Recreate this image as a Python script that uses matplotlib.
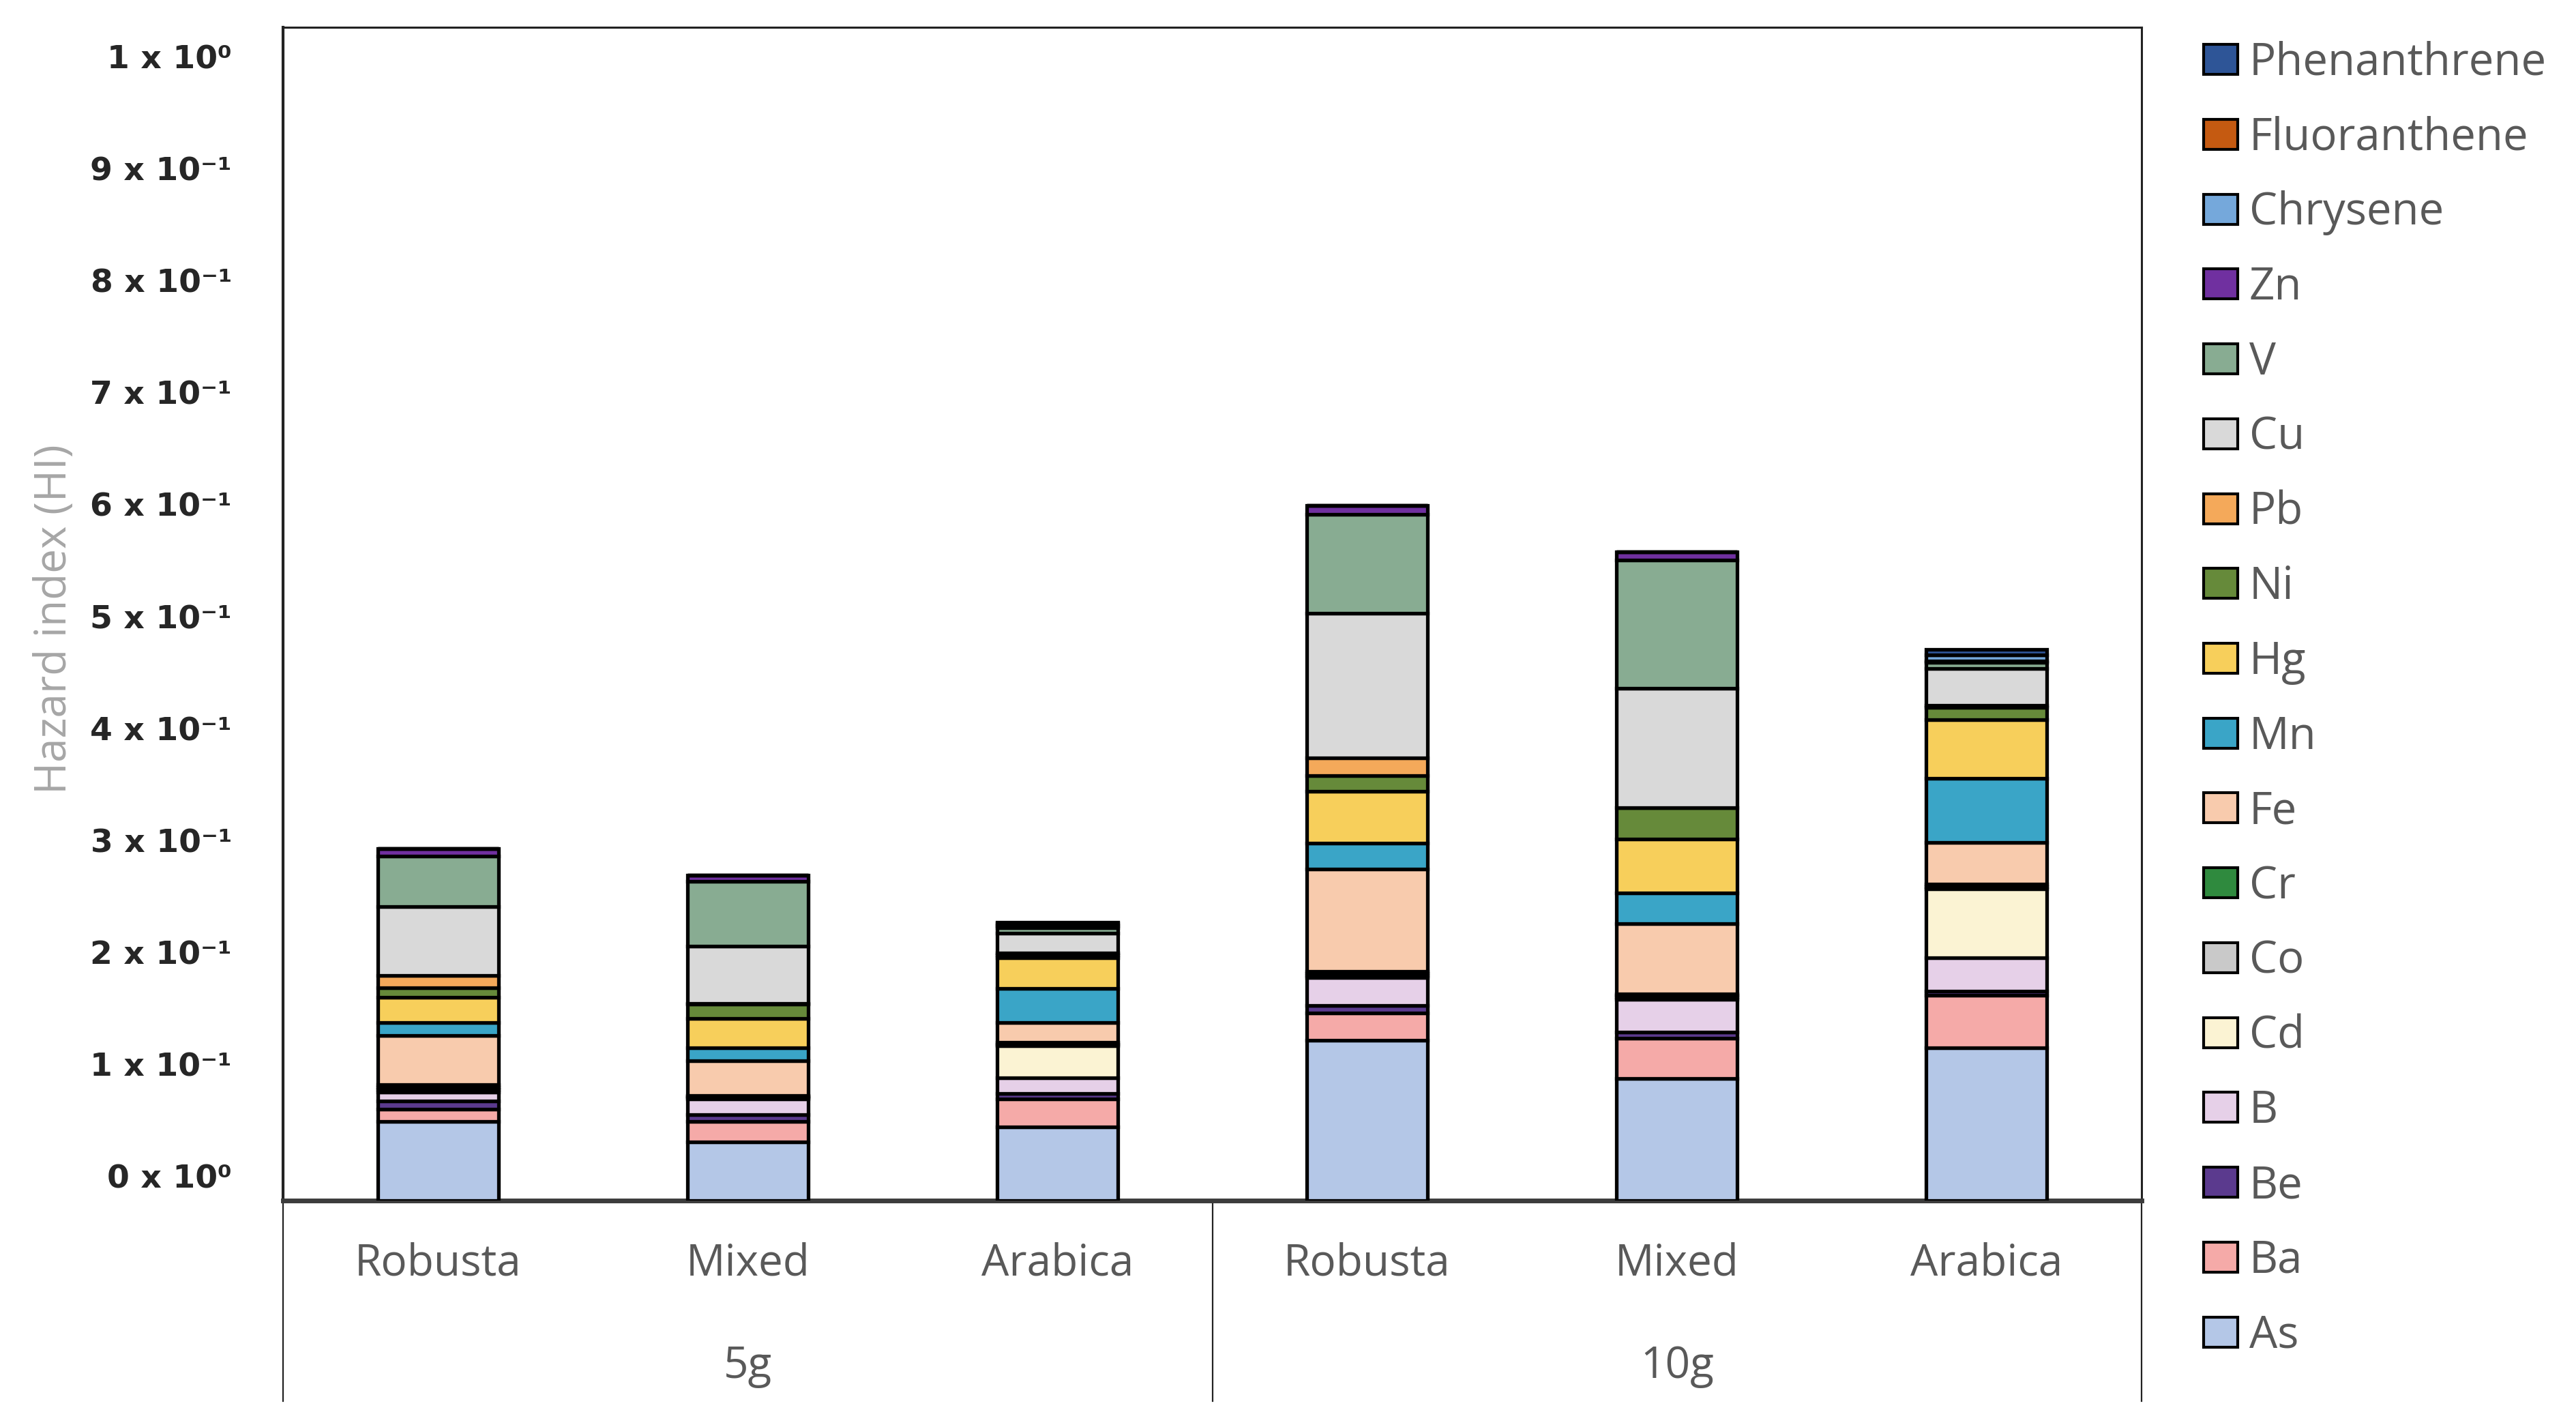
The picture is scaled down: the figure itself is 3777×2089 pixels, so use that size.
import matplotlib
matplotlib.use("Agg")
import matplotlib.pyplot as plt
import matplotlib.transforms as mtransforms
import numpy as np

# categories
varieties = ["Robusta", "Mixed", "Arabica", "Robusta", "Mixed", "Arabica"]
groups = ["5g", "10g"]

# hazard quotient per element, order: 5g R, M, A, 10g R, M, A
As = [0.0704, 0.0518, 0.0657, 0.143, 0.109, 0.136]
Ba = [0.0111, 0.0186, 0.0245, 0.0244, 0.0354, 0.047]
Be = [0.0071, 0.0063, 0.0051, 0.0064, 0.006, 0.0038]
B = [0.0082, 0.014, 0.014, 0.0248, 0.029, 0.030]
Cd = [0.002, 0.001, 0.0286, 0.002, 0.0015, 0.061]
Co = [0.002, 0.001, 0.0015, 0.002, 0.002, 0.002]
Cr = [0.0027, 0.001, 0.0015, 0.0015, 0.0015, 0.0023]
Fe = [0.0438, 0.0308, 0.0175, 0.0915, 0.0624, 0.0376]
Mn = [0.0116, 0.0116, 0.031, 0.0235, 0.0273, 0.057]
Hg = [0.0222, 0.0264, 0.027, 0.0461, 0.0484, 0.0525]
Ni = [0.0086, 0.0123, 0.0025, 0.0141, 0.0278, 0.0107]
Pb = [0.0107, 0.001, 0.002, 0.0158, 0.0, 0.002]
Cu = [0.0616, 0.051, 0.0173, 0.129, 0.1068, 0.033]
V = [0.0454, 0.0578, 0.005, 0.0884, 0.1146, 0.0055]
Zn = [0.0065, 0.0058, 0.002, 0.0077, 0.0073, 0.001]
Chrysene = [0.0, 0.0, 0.0015, 0.0, 0.0, 0.0055]
Fluoranthene = [0.0, 0.0, 0.0, 0.0, 0.0, 0.0]
Phenanthrene = [0.0, 0.0, 0.0012, 0.0, 0.0, 0.005]

ytick_labels = ["0 x 10⁰", "1 x 10⁻¹", "2 x 10⁻¹", "3 x 10⁻¹", "4 x 10⁻¹",
                "5 x 10⁻¹", "6 x 10⁻¹", "7 x 10⁻¹", "8 x 10⁻¹", "9 x 10⁻¹", "1 x 10⁰"]

series = [
    ("As", As, "#b4c7e7"),
    ("Ba", Ba, "#f5aaa8"),
    ("Be", Be, "#5b3a8e"),
    ("B", B, "#e6d0e8"),
    ("Cd", Cd, "#fbf3d3"),
    ("Co", Co, "#c9c9c9"),
    ("Cr", Cr, "#2f8a3e"),
    ("Fe", Fe, "#f8cbad"),
    ("Mn", Mn, "#3aa5c7"),
    ("Hg", Hg, "#f7cf5b"),
    ("Ni", Ni, "#668a3a"),
    ("Pb", Pb, "#f4a95a"),
    ("Cu", Cu, "#d9d9d9"),
    ("V", V, "#88ac92"),
    ("Zn", Zn, "#7030a0"),
    ("Chrysene", Chrysene, "#75a8db"),
    ("Fluoranthene", Fluoranthene, "#c55a11"),
    ("Phenanthrene", Phenanthrene, "#2e5597"),
]

fig = plt.figure(figsize=(37.77, 20.89), dpi=100)
ax = fig.add_axes([415 / 3777, 1 - 1759.5 / 2089, 2725 / 3777, 1719.5 / 2089])

x = np.arange(len(varieties))
bottom = np.zeros(len(varieties))
bars = []
for name, vals, col in series:
    b = ax.bar(x, vals, width=0.39, bottom=bottom, color=col,
               edgecolor="black", linewidth=3.8, label=name, zorder=3)
    bars.append(b)
    bottom += np.array(vals)

ax.set_xlim(-0.5, 5.5)
ax.set_ylim(0, 1.0472)

ax.set_yticks(np.arange(0, 1.01, 0.1))
ax.set_yticklabels(ytick_labels, fontsize=34, fontweight="bold",
                   family="DejaVu Sans", color="#262626")
ax.tick_params(axis="y", length=0, pad=54)
offset = mtransforms.ScaledTranslation(0, 0.35, fig.dpi_scale_trans)
for lbl in ax.get_yticklabels():
    lbl.set_transform(lbl.get_transform() + offset)

ax.set_xticks([])
for side in ["top", "right", "left"]:
    ax.spines[side].set_color("#222222")
    ax.spines[side].set_linewidth(2.2)
ax.spines["left"].set_linewidth(3)
ax.spines["bottom"].set_color("#3c3c3c")
ax.spines["bottom"].set_linewidth(5)

# category axis: labels and separators
trans = ax.get_xaxis_transform()
for i, name in enumerate(varieties):
    ax.text(i, -0.0538, name, transform=trans, ha="center", va="center",
            fontsize=46, family="Open Sans", color="#595959")
for j, g in enumerate(groups):
    ax.text(j * 3 + 1, -0.1416, g, transform=trans, ha="center", va="center",
            fontsize=46, family="Open Sans", color="#595959")
for xs in [-0.5, 2.5, 5.5]:
    ax.plot([xs, xs], [0, -0.1713], transform=trans, color="#222222",
            linewidth=1.6, clip_on=False)

fig.text(80 / 3777, 1 - 908 / 2089, "Hazard index (HI)", rotation=90,
         ha="center", va="center", fontsize=46, family="Open Sans", color="#a6a6a6")

handles = bars[::-1]
labels = [s[0] for s in series][::-1]
leg = ax.legend(handles, labels, loc="upper left",
                bbox_to_anchor=(3231 / 3777, 1 - 60 / 2089),
                bbox_transform=fig.transFigure, frameon=False,
                prop={"family": "Open Sans", "size": 47},
                labelcolor="#595959", handlelength=0.77, handleheight=0.66,
                handletextpad=0.25, labelspacing=0.67, borderpad=0, borderaxespad=0)
for p in leg.get_patches():
    p.set_linewidth(3)

fig.savefig("out.png", dpi=100)
